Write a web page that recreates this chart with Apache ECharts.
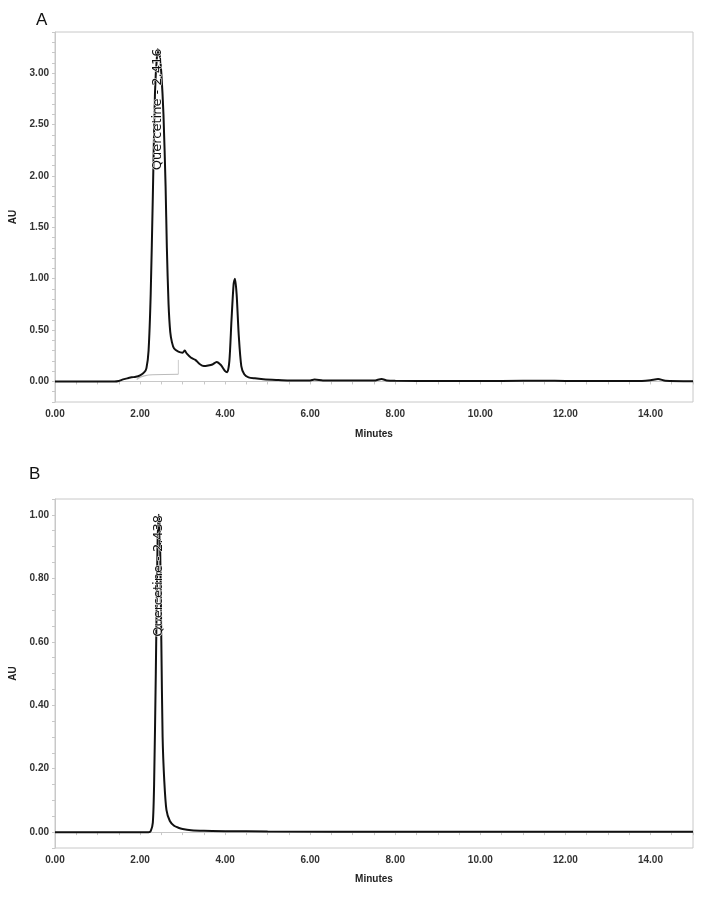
<!DOCTYPE html>
<html>
<head>
<meta charset="utf-8">
<script src="https://cdn.jsdelivr.net/npm/echarts@6/dist/echarts.min.js"></script>
<style>
  html, body { margin: 0; padding: 0; background: #fff; }
  #main { width: 705px; height: 897px; }
</style>
</head>
<body>
<div id="main"></div>
<script>
// panel A - extract chromatogram (minutes / AU)
var timeA = [0, 1.4, 1.5, 1.6, 1.7, 1.8, 1.9, 2.0, 2.1, 2.15, 2.2, 2.25, 2.3, 2.35, 2.4, 2.43, 2.46, 2.5, 2.55, 2.6, 2.63, 2.67, 2.71, 2.75, 2.8, 2.9, 3.0, 3.05, 3.1, 3.2, 3.3, 3.4, 3.5, 3.6, 3.7, 3.8, 3.9, 4.0, 4.05, 4.1, 4.15, 4.2, 4.23, 4.27, 4.32, 4.38, 4.45, 4.55, 4.7, 4.9, 5.2, 5.5, 6.0, 6.1, 6.3, 7.0, 7.5, 7.68, 7.8, 8.0, 9.0, 10.0, 11.0, 11.5, 12.0, 13.0, 13.8, 14.0, 14.18, 14.35, 15.0];
var auA = [0, 0, 0.005, 0.02, 0.03, 0.04, 0.045, 0.06, 0.09, 0.13, 0.3, 0.85, 1.8, 2.8, 3.18, 3.22, 3.18, 3.0, 2.6, 1.9, 1.3, 0.75, 0.48, 0.38, 0.32, 0.29, 0.28, 0.3, 0.27, 0.23, 0.21, 0.17, 0.15, 0.155, 0.165, 0.19, 0.16, 0.1, 0.09, 0.2, 0.6, 0.95, 1.0, 0.85, 0.45, 0.15, 0.07, 0.04, 0.03, 0.022, 0.015, 0.01, 0.01, 0.018, 0.01, 0.008, 0.008, 0.025, 0.01, 0.006, 0.005, 0.004, 0.006, 0.007, 0.005, 0.004, 0.005, 0.012, 0.024, 0.006, 0.002];
// integration baseline under the quercetin peak
var baseT = [1.92, 2.0, 2.1, 2.3, 2.9];
var baseAU = [0.02, 0.04, 0.055, 0.065, 0.07];
var dropT = [2.9, 2.9];
var dropAU = [0.07, 0.21];

// panel B - quercetin standard
var timeB = [0, 2.2, 2.25, 2.3, 2.33, 2.37, 2.41, 2.44, 2.47, 2.5, 2.53, 2.57, 2.62, 2.7, 2.8, 2.9, 3.0, 3.2, 3.5, 4.0, 5.0, 8.0, 15.0];
var auB = [0, 0, 0.003, 0.03, 0.15, 0.5, 0.9, 1.0, 0.92, 0.6, 0.3, 0.16, 0.07, 0.035, 0.02, 0.014, 0.01, 0.006, 0.004, 0.003, 0.002, 0.001, 0.001];

var peakA = { t: 2.416, au: 3.24, text: 'Quercetine - 2.416' };
var peakB = { t: 2.438, au: 1.0, text: 'Quercetine - 2.438' };

function pairs(xs, ys) {
  return xs.map(function (x, i) { return [x, ys[i]]; });
}

var labelStyle = { fontFamily: 'Liberation Sans', fontSize: 10, fontWeight: 'bold', color: '#333' };
var gridLine = '#c8c8c8';

function xAxisFor(idx, gap) {
  return {
    type: 'value', gridIndex: idx, min: 0, max: 15, interval: 0.5,
    name: 'Minutes', nameLocation: 'middle', nameGap: gap,
    nameTextStyle: { fontFamily: 'Liberation Sans', fontSize: 10, fontWeight: 'bold', color: '#222' },
    axisLine: { lineStyle: { color: gridLine } },
    axisTick: { length: 3, lineStyle: { color: gridLine } },
    splitLine: { show: false },
    axisLabel: Object.assign({
      margin: 7,
      formatter: function (v) {
        var r = Math.round(v * 100);
        return r % 200 === 0 ? (r / 100).toFixed(2) : '';
      }
    }, labelStyle)
  };
}

function yAxisFor(idx, min, max, step, every) {
  return {
    type: 'value', gridIndex: idx, min: min, max: max, interval: step,
    name: 'AU', nameLocation: 'middle', nameGap: 36, nameRotate: 90,
    nameTextStyle: { fontFamily: 'Liberation Sans', fontSize: 10, fontWeight: 'bold', color: '#222' },
    axisLine: { show: true, lineStyle: { color: gridLine } },
    axisTick: { show: true, length: 3, lineStyle: { color: gridLine } },
    splitLine: { show: false },
    axisLabel: Object.assign({
      margin: 6,
      formatter: function (v) {
        var r = Math.round(v * 100);
        return (r >= 0 && r % every === 0) ? (r / 100).toFixed(2) : '';
      }
    }, labelStyle)
  };
}

function peakMark(p) {
  return {
    symbol: 'circle', symbolSize: 1,
    itemStyle: { color: '#000' },
    label: {
      show: true, position: 'inside', rotate: 90, align: 'right', verticalAlign: 'middle',
      formatter: p.text,
      fontFamily: 'DejaVu Sans', fontSize: 13, color: '#111',
      textBorderColor: '#fff', textBorderWidth: 1
    },
    data: [{ coord: [p.t, p.au] }]
  };
}

var chart = echarts.init(document.getElementById('main'));
var option = {
  animation: false,
  backgroundColor: '#fff',
  title: [
    { text: 'A', left: 31, top: 7, textStyle: { fontFamily: 'Liberation Sans', fontSize: 17, fontWeight: 'normal', color: '#111' } },
    { text: 'B', left: 24, top: 461, textStyle: { fontFamily: 'Liberation Sans', fontSize: 17, fontWeight: 'normal', color: '#111' } }
  ],
  grid: [
    { left: 55, right: 12, top: 32, height: 370, show: true, borderColor: gridLine, borderWidth: 1 },
    { left: 55, right: 12, top: 499, height: 349, show: true, borderColor: gridLine, borderWidth: 1 }
  ],
  xAxis: [xAxisFor(0, 27), xAxisFor(1, 26)],
  yAxis: [yAxisFor(0, -0.2, 3.4, 0.1, 50), yAxisFor(1, -0.05, 1.05, 0.05, 20)],
  series: [
    {
      type: 'line', xAxisIndex: 0, yAxisIndex: 0,
      data: pairs(baseT, baseAU), showSymbol: false, smooth: 0.4,
      lineStyle: { color: '#bbb', width: 1.2 }, z: 1
    },
    {
      type: 'line', xAxisIndex: 0, yAxisIndex: 0,
      data: pairs(dropT, dropAU), showSymbol: false,
      lineStyle: { color: '#ccc', width: 1 }, z: 1
    },
    {
      type: 'line', xAxisIndex: 0, yAxisIndex: 0,
      data: pairs(timeA, auA), showSymbol: false, smooth: 0.25,
      lineStyle: { color: '#111', width: 2 }, z: 3,
      markPoint: peakMark(peakA)
    },
    {
      type: 'line', xAxisIndex: 1, yAxisIndex: 1,
      data: pairs(timeB, auB), showSymbol: false, smooth: 0.25,
      lineStyle: { color: '#111', width: 2 }, z: 3,
      markPoint: peakMark(peakB)
    }
  ]
};
chart.setOption(option);
window.onresize = function () {
  chart.resize();
};
</script>
</body>
</html>
